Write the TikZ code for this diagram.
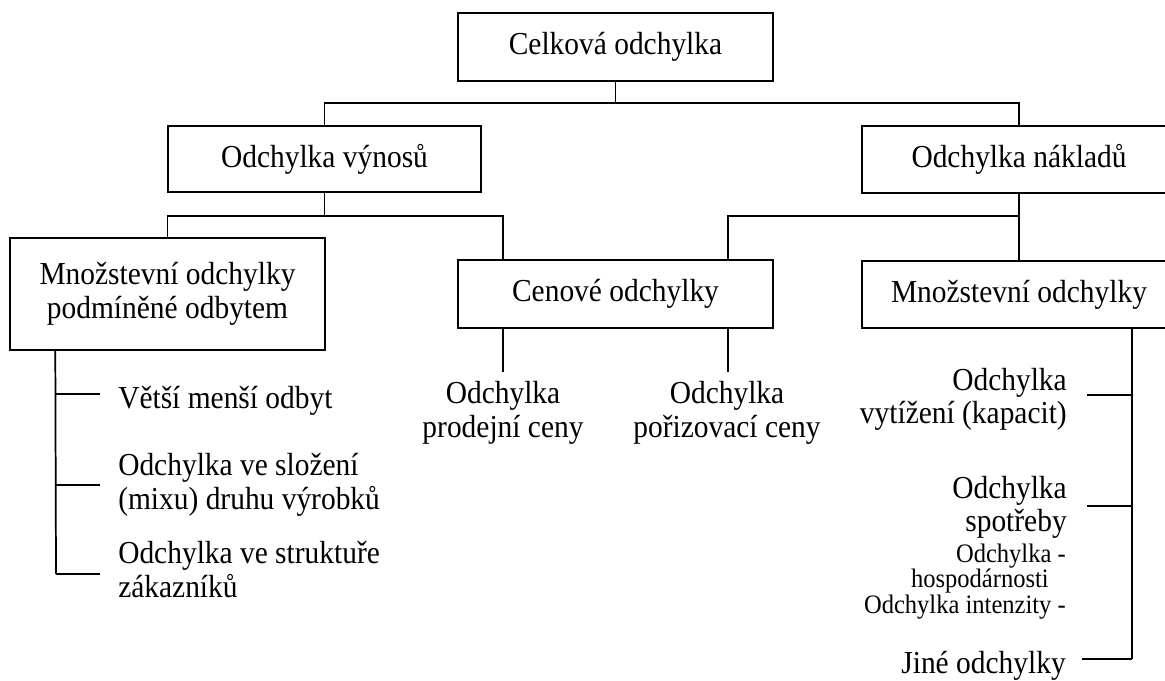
\documentclass[tikz,border=0pt]{standalone}
\usepackage{fontspec}
\setmainfont{Liberation Serif}[FakeStretch=0.92]
\usetikzlibrary{calc}
\tikzset{
  x=0.75pt, y=-0.75pt,
  conn/.style={line width=1.3pt, draw=black},
  mainfont/.style={font=\fontsize{24}{25.8}\selectfont},
  smallfont/.style={font=\fontsize{20}{17.5}\selectfont},
  box/.style={draw=black, line width=1.3pt, fill=white, mainfont, align=center,
              inner sep=0pt, minimum width=236pt},
  lbl/.style={mainfont, inner sep=0pt},
  slbl/.style={smallfont, inner sep=0pt}
}
\begin{document}
\begin{tikzpicture}
\useasboundingbox (0,0) rectangle (1165,681);
\clip (0,0) rectangle (1165,681);
\fill[white] (0,0) rectangle (1165,681);

% boxes
\node[box, minimum height=51pt] (top) at (615.5,47) {Celková odchylka};
\node[box, minimum height=49.5pt, minimum width=234.75pt] (vynos) at (324.5,159) {Odchylka výnosů};
\node[box, minimum height=50pt, minimum width=235.5pt] (nakl) at (1019,159.5) {Odchylka nákladů};
\node[box, minimum height=84pt] (left) at (167.5,294) {Množstevní odchylky\\podmíněné odbytem};
\node[box, minimum height=51pt] (cen) at (615.5,294) {Cenové odchylky};
\node[box, minimum height=50pt, minimum width=235.5pt] (mnoz) at (1019,294.5) {Množstevní odchylky};

% junctions
\coordinate (j1) at (615.5,103);
\coordinate (j2) at (324.5,216);
\coordinate (j3) at (1019,216);
\coordinate (cenL) at ($(cen.north)+(-112.5,0)$);
\coordinate (cenR) at ($(cen.north)+(112.5,0)$);
\coordinate (cenLb) at ($(cen.south)+(-112.5,0)$);
\coordinate (cenRb) at ($(cen.south)+(112.5,0)$);
\coordinate (prodTop) at (503,372);
\coordinate (porTop) at (728,372);

\draw[conn] (top.south) -- (j1);
\draw[conn] (vynos.north) |- (j1) -| (nakl.north);
\draw[conn] (vynos.south) -- (j2);
\draw[conn] (left.north) |- (j2) -| (cenL);
\draw[conn] (nakl.south) -- (mnoz.north);
\draw[conn] (j3) -| (cenR);
\draw[conn] (cenLb) -- (prodTop);
\draw[conn] (cenRb) -- (porTop);

% left list
\coordinate (ls) at ($(left.south west)+(46,0)$);
\coordinate (lb) at (56,574);
\coordinate (lt1a) at (56,394);  \coordinate (lt1b) at (100,394);
\coordinate (lt2a) at (56,485);  \coordinate (lt2b) at (100,485);
\coordinate (lt3b) at (100,574);
\draw[conn] (ls) -- (lb);
\draw[conn] (lt1a) -- (lt1b);
\draw[conn] (lt2a) -- (lt2b);
\draw[conn] (lb) -- (lt3b);

\node[lbl, anchor=base west] (l1) at (118,408) {Větší menší odbyt};
\node[lbl, anchor=base west] (l2a) at (118,475) {Odchylka ve složení};
\node[lbl, anchor=base west] (l2b) at (118,509) {(mixu) druhu výrobků};
\node[lbl, anchor=base west] (l3a) at (118,563) {Odchylka ve struktuře};
\node[lbl, anchor=base west] (l3b) at (118,597) {zákazníků};

% middle
\node[lbl, anchor=base] (p1) at (503,403) {Odchylka};
\node[lbl, anchor=base] (p2) at (503,437) {prodejní ceny};
\node[lbl, anchor=base] (q1) at (727,403) {Odchylka};
\node[lbl, anchor=base] (q2) at (727,437) {pořizovací ceny};

% right list
\coordinate (rs) at ($(mnoz.south)+(113,0)$);
\coordinate (rb) at (1132,659);
\coordinate (rt1a) at (1132,395); \coordinate (rt1b) at (1087,395);
\coordinate (rt2a) at (1132,506); \coordinate (rt2b) at (1087,506);
\coordinate (rt3b) at (1082,659);
\draw[conn] (rs) -- (rb);
\draw[conn] (rt1a) -- (rt1b);
\draw[conn] (rt2a) -- (rt2b);
\draw[conn] (rb) -- (rt3b);

\node[lbl, anchor=base east] (r1a) at (1067,390) {Odchylka};
\node[lbl, anchor=base east] (r1b) at (1067,423) {vytížení (kapacit)};
\node[lbl, anchor=base east] (r2a) at (1067,498) {Odchylka};
\node[lbl, anchor=base east] (r2b) at (1067,531) {spotřeby};
\node[slbl, anchor=base east] (r2c) at (1066,562) {Odchylka -};
\node[slbl, anchor=base east] (r2d) at (1049,587) {hospodárnosti};
\node[slbl, anchor=base east] (r2e) at (1066,613) {Odchylka intenzity -};
\node[lbl, anchor=base east] (r3) at (1066,673) {Jiné odchylky};
\end{tikzpicture}
\end{document}
